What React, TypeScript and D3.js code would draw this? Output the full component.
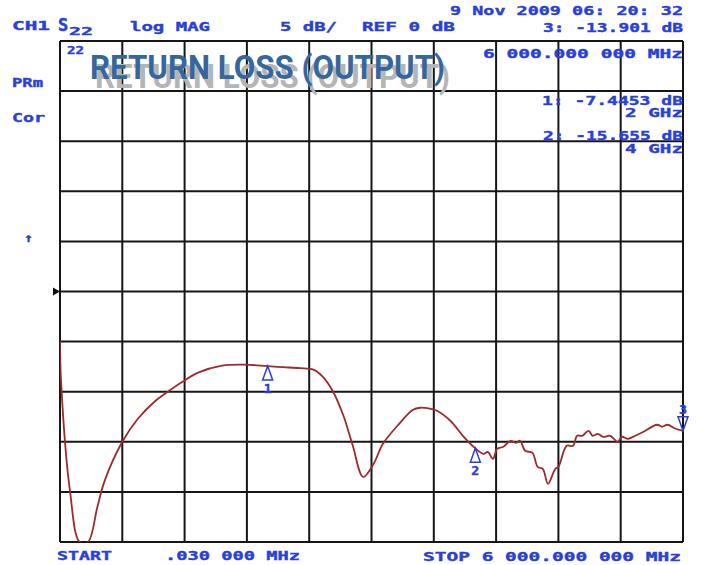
import React from "react";
import * as d3 from "d3";

// trace: frequency (GHz) vs S22 magnitude (dB)
const freqGHz = [
  0.00003, 0.01, 0.096, 0.19, 0.27, 0.36, 0.43, 0.6, 0.75, 0.92, 1.01, 1.18, 1.33, 1.56, 1.78,
  2.0, 2.15, 2.31, 2.44, 2.53, 2.63, 2.73, 2.82, 2.92, 3.02, 3.11, 3.25, 3.4, 3.47, 3.54, 3.63,
  3.76, 3.88, 4.0, 4.08, 4.12, 4.17, 4.21, 4.27, 4.34, 4.39, 4.43, 4.48, 4.55, 4.6, 4.65, 4.7,
  4.77, 4.8, 4.88, 4.94, 4.98, 5.03, 5.09, 5.13, 5.18, 5.23, 5.3, 5.37, 5.41, 5.47, 5.54, 5.62,
  5.75, 5.8, 5.85, 5.93, 6.0,
];
const s22dB = [
  -4.9, -8.9, -19.9, -25, -25, -21.5, -18.9, -15.0, -12.7, -10.9, -10.2, -9.0, -8.1, -7.4, -7.3,
  -7.45, -7.55, -7.65, -7.8, -8.5, -10.0, -12.4, -15.4, -18.5, -17.2, -15.2, -13.4, -11.8, -11.6,
  -11.65, -11.9, -12.9, -14.4, -15.65, -16.2, -16.0, -16.7, -15.7, -15.5, -14.9, -15.1, -14.9,
  -15.9, -16.1, -17.5, -17.7, -19.2, -17.7, -17.5, -15.4, -15.4, -14.4, -14.4, -13.9, -14.4,
  -14.2, -14.5, -14.4, -15.0, -14.5, -14.7, -14.4, -14.0, -13.3, -13.5, -13.3, -13.7, -13.9,
];

const markerNums = [1, 2, 3];
const markerGHz = [2, 4, 6];
const markerdB = [-7.4453, -15.655, -13.901];

const rows = d3.range(0, 11);
const cols = d3.range(0, 11);

const BLUE = "#2a3fd8";
const MONO = "'DejaVu Sans Mono', monospace";
const TITLE_FONT = "'Liberation Sans Narrow', 'Roboto', sans-serif";

export default function App() {
  const left = 60;
  const right = 683;
  const top = 41;
  const bottom = 542;

  const x = d3.scaleLinear().domain([0.00003, 6]).range([left, right]);
  const y = d3.scaleLinear().domain([25, -25]).range([top, bottom]);
  const colX = d3.scaleLinear().domain([0, 10]).range([left, right]);
  const rowY = d3.scaleLinear().domain([0, 10]).range([top, bottom]);

  const pts: [number, number][] = freqGHz.map((f, i) => [f, s22dB[i]]);
  const line = d3
    .line<[number, number]>()
    .x((d) => x(d[0]))
    .y((d) => y(d[1]))
    .curve(d3.curveCatmullRom.alpha(0.5));

  const label = (
    t: string,
    px: number,
    py: number,
    len: number,
    size = 12.5,
    anchor: "start" | "end" | "middle" = "start"
  ) => (
    <text
      x={px}
      y={py}
      fontFamily={MONO}
      fontWeight="bold"
      fontSize={size}
      fill={BLUE}
      stroke={BLUE}
      strokeWidth={0.4}
      textAnchor={anchor}
      textLength={len}
      lengthAdjust="spacingAndGlyphs"
    >
      {t}
    </text>
  );

  return (
    <svg
      width={703}
      height={565}
      style={{ position: "absolute", left: 0, top: 0, background: "#fff" }}
    >
      <defs>
        <clipPath id="plot">
          <rect x={left} y={top} width={right - left} height={bottom - top} />
        </clipPath>
      </defs>

      {/* grid */}
      <g stroke="#161616" strokeWidth={2}>
        {cols.map((c) => (
          <line key={"c" + c} x1={colX(c)} x2={colX(c)} y1={top} y2={bottom} />
        ))}
        {rows.map((r) => (
          <line key={"r" + r} x1={left} x2={right} y1={rowY(r)} y2={rowY(r)} />
        ))}
      </g>

      {/* reference position marker */}
      <path
        d={`M${left - 7},${y(0) - 4} L${left},${y(0)} L${left - 7},${y(0) + 4} Z`}
        fill="#111"
      />

      {/* trace */}
      <path
        d={line(pts) ?? ""}
        fill="none"
        stroke="#9c2b2b"
        strokeWidth={1.8}
        strokeLinejoin="round"
        clipPath="url(#plot)"
      />

      {/* markers */}
      {markerNums.map((n, i) => {
        const mx = x(markerGHz[i]);
        const my = y(markerdB[i]);
        if (n === 3) {
          return (
            <g key={n}>
              <path
                d={`M${mx},${my} L${mx - 5},${my - 14} L${mx + 5},${my - 14} Z`}
                fill="none"
                stroke={BLUE}
                strokeWidth={1.5}
              />
              {label(String(n), mx, my - 17, 8, 12, "middle")}
            </g>
          );
        }
        return (
          <g key={n}>
            <path
              d={`M${mx},${my} L${mx - 5},${my + 14} L${mx + 5},${my + 14} Z`}
              fill="none"
              stroke={BLUE}
              strokeWidth={1.5}
            />
            {label(String(n), mx, my + 27, 8, 12, "middle")}
          </g>
        );
      })}

      {/* annotations */}
      {label("9 Nov 2009  06: 20: 32", 450, 15, 233)}
      {label("CH1", 12, 30, 38)}
      <text
        x={58}
        y={31}
        fontFamily={MONO}
        fontWeight="bold"
        fontSize={17}
        fill={BLUE}
        stroke={BLUE}
        strokeWidth={0.4}
      >
        S
      </text>
      {label("22", 69, 35, 24, 11)}
      {label("log MAG", 130, 31, 80)}
      {label("5 dB/", 280, 31, 57)}
      {label("REF 0 dB", 362, 31, 93)}
      {label("3: -13.901 dB", 683, 32, 140, 12.5, "end")}
      {label("6 000.000 000 MHz", 683, 58, 200, 12.5, "end")}
      {label("1: -7.4453 dB", 683, 105, 141, 12.5, "end")}
      {label("2 GHz", 683, 117, 58, 12.5, "end")}
      {label("2: -15.655 dB", 683, 140, 140, 12.5, "end")}
      {label("4 GHz", 683, 153, 58, 12.5, "end")}
      {label("PRm", 12, 87, 31)}
      {label("Cor", 12, 122, 33)}
      {label("↑", 24, 242, 9, 12)}
      {label("22", 67, 54, 17, 10)}
      {label("START", 57, 560, 55)}
      {label(".030 000 MHz", 165, 560, 135)}
      {label("STOP 6 000.000 000 MHz", 423, 561, 258)}

      {/* title */}
      <text
        x={95}
        y={88}
        fontFamily={TITLE_FONT}
        fontWeight="bold"
        fontSize={34}
        fill="#b5b5b5"
        textLength={355}
        lengthAdjust="spacingAndGlyphs"
      >
        RETURN LOSS (OUTPUT)
      </text>
      <text
        x={90}
        y={79}
        fontFamily={TITLE_FONT}
        fontWeight="bold"
        fontSize={34}
        fill="#3467a0"
        textLength={355}
        lengthAdjust="spacingAndGlyphs"
      >
        RETURN LOSS (OUTPUT)
      </text>
    </svg>
  );
}
